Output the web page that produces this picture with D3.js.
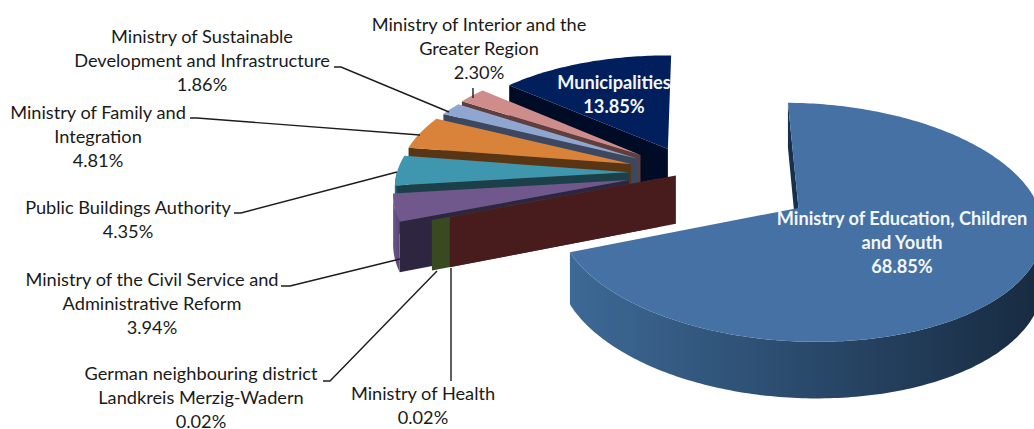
<!DOCTYPE html>
<html><head><meta charset="utf-8">
<script src="https://cdn.jsdelivr.net/npm/d3@7/dist/d3.min.js"></script>
<style>html,body{margin:0;padding:0;background:#fff}svg{display:block}text{font-family:Lato,"Noto Sans",sans-serif}</style>
</head><body><svg id="c" width="1034" height="429"></svg>
<script>
// Data, clockwise from the top of the pie
const categories = ["Ministry of Education, Children and Youth","Ministry of Health","German neighbouring district Landkreis Merzig-Wadern","Ministry of the Civil Service and Administrative Reform","Public Buildings Authority","Ministry of Family and Integration","Ministry of Sustainable Development and Infrastructure","Ministry of Interior and the Greater Region","Municipalities"];
const values = [68.85,0.02,0.02,3.94,4.35,4.81,1.86,2.30,13.85];
const valueLabels = ["68.85%","0.02%","0.02%","3.94%","4.35%","4.81%","1.86%","2.30%","13.85%"];
// Styling
const explode = [0.54,0.07,0.145,0.274,0.268,0.272,0.268,0.275,0.245];
const topColors = ["#4571a5","#7a2f2f","#5b7030","#70578c","#3f96af","#d8823a","#8fa6d0","#ce8d8b","#001f5c"];
const wallColors = ["#17304b","#481c1c","#3a4a20","#2e2540","#1c4049","#5a3514","#3c4760","#5f3f3e","#000b25"];
const sideFrom = ["#3d6996","#5e2626","#4a5c28","#6b5488","#327a8e","#a0602a","#6c7fa0","#9a6c6a","#001540"];
const sideTo = ["#172a40","#481c1c","#3a4a20","#5a4775","#1c4049","#5a3514","#3c4760","#5f3f3e","#000b25"];
const labelLines = [
 ["Ministry of Education, Children","and Youth","68.85%"],
 ["Ministry of Health","0.02%"],
 ["German neighbouring district","Landkreis Merzig-Wadern","0.02%"],
 ["Ministry of the Civil Service and","Administrative Reform","3.94%"],
 ["Public Buildings Authority","4.35%"],
 ["Ministry of Family and","Integration","4.81%"],
 ["Ministry of Sustainable","Development and Infrastructure","1.86%"],
 ["Ministry of Interior and the","Greater Region","2.30%"],
 ["Municipalities","13.85%"]];
const labelAt = [[902,219],[423,394],[201,374],[152,280],[128,208],[98,113],[202,37],[479,25],[614,83]];
const leaders = [null,[[451,381],[451,268]],[[323,381],[330,381],[437,271]],[[281,286],[290,286],[400,259]],[[234,213],[241,213],[397,172]],[[190,118],[197,118],[420,135]],[[334,67],[341,67],[449,112]],[[473,88],[473,98]],null];

const O = {x:691,y:172.8}, R = 232, A = 109.5, P = 0.116, H = 3, D = 48;
const sx = d3.scaleLinear().domain([0,1]).range([0,R]);
const sy = d3.scaleLinear().domain([0,1]).range([0,A]);
function proj(U,V,z){const s=1/(1-P*V);return [O.x+(sx(U)+H*V)*s, O.y+(sy(V)+D*z)*s];}

const theta0 = 1*Math.PI/180;
const arcs = d3.pie().sort(null).startAngle(theta0).endAngle(theta0+2*Math.PI)(values);
const svg = d3.select("#c"), defs = svg.append("defs");
const line = d3.line();

const order = [8,7,6,5,4,3,2,1,0];
order.forEach(i=>{
  const a = arcs[i], mid=(a.startAngle+a.endAngle)/2, e=explode[i];
  const cU=e*Math.sin(mid), cV=-e*Math.cos(mid);
  const pt=(t,z)=>proj(cU+Math.sin(t),cV-Math.cos(t),z);
  const apex=z=>proj(cU,cV,z);
  const steps=Math.max(2,Math.ceil((a.endAngle-a.startAngle)*60));
  const ts=d3.range(steps+1).map(k=>a.startAngle+(a.endAngle-a.startAngle)*k/steps);
  // radial wall on the start edge
  svg.append("path").attr("d",line([apex(0),pt(a.startAngle,0),pt(a.startAngle,1),apex(1)])+"Z").attr("fill",wallColors[i]);
  // outer wall, only the part that faces the viewer
  const vis=ts.filter(t=>Math.cos(t)<0.02);
  if(vis.length>1){
    const poly=vis.map(t=>pt(t,0)).concat(vis.slice().reverse().map(t=>pt(t,1)));
    const ex=d3.extent(poly,p=>p[0]);
    const g=defs.append("linearGradient").attr("id","g"+i).attr("gradientUnits","userSpaceOnUse")
      .attr("x1",ex[0]).attr("x2",ex[1]).attr("y1",0).attr("y2",0);
    g.append("stop").attr("offset",0).attr("stop-color",sideFrom[i]);
    g.append("stop").attr("offset",1).attr("stop-color",sideTo[i]);
    svg.append("path").attr("d",line(poly)+"Z").attr("fill",`url(#g${i})`);
  }
  // top surface
  svg.append("path").attr("d",line([apex(0)].concat(ts.map(t=>pt(t,0))))+"Z").attr("fill",topColors[i]);
});

const lg=svg.append("g");
leaders.forEach(l=>{ if(l) lg.append("path").attr("d",line(l)).attr("fill","none").attr("stroke","#1c1c1c").attr("stroke-width",1.4);});

const white=new Set([0,8]);
labelLines.forEach((ls,i)=>{
  const [x,y0]=labelAt[i];
  ls.forEach((t,j)=>svg.append("text").attr("x",x).attr("y",y0+j*24).attr("dy","0.35em").attr("text-anchor","middle")
    .attr("font-size",18.2).attr("font-weight",white.has(i)?700:400)
    .attr("fill",white.has(i)?"#f4f6fa":"#1a1a1a").text(t));
});
</script></body></html>
